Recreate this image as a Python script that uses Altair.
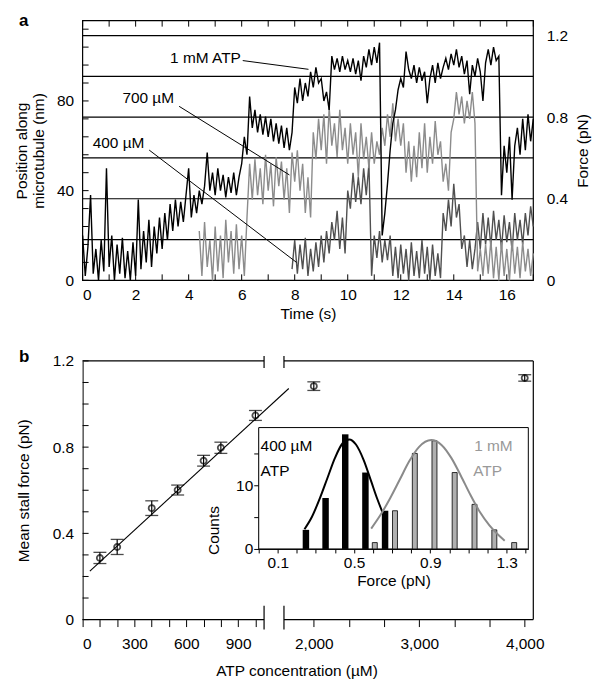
import altair as alt
import numpy as np
import pandas as pd

FONT = "Liberation Sans"
FS = 15.5

# ------------------------------------------------------------------ panel a
TIME_MAX = 17
NM_TOP = 115.8
FORCE_TOP = 1.273
STEP = 0.1

black_start = 0.0
black_nm = [20, 2, 15, 38, 3, 14, 0, 18, 4, 50,
            6, 20, 0, 16, 3, 19, 1, 13, 0, 17,
            2, 36, 5, 22, 8, 27, 6, 24, 12, 28,
            14, 30, 18, 34, 22, 36, 24, 35, 26, 38,
            50, 28, 38, 30, 40, 34, 42, 57, 40, 48,
            38, 50, 40, 47, 37, 46, 39, 48, 38, 46,
            52, 64, 56, 82, 68, 76, 66, 74, 65, 73,
            64, 72, 62, 70, 61, 69, 59, 68, 58, 66,
            86, 79, 90, 80, 88, 82, 93, 86, 95, 88,
            90, 80, 84, 76, 100, 94, 99, 93, 100, 94,
            98, 93, 99, 92, 98, 89, 100, 95, 103, 96,
            104, 97, 106, 20, 30, 43, 58, 70, 76, 85,
            90, 86, 102, 94, 90, 96, 88, 95, 89, 93,
            79, 90, 96, 88, 97, 90, 95, 99, 94, 101,
            96, 103, 95, 100, 92, 98, 83, 96, 91, 99,
            93, 80, 97, 103, 96, 104, 98, 100, 38, 60,
            48, 64, 36, 60, 68, 56, 72, 58, 74, 62, 72]

light_start = 4.4
light_nm = [22, 2, 26, 6, 18, 0,
            24, 4, 20, 1, 27, 8, 22, 3, 25, 5,
            20, 2, 28, 52, 36, 54, 38, 50, 34, 56,
            40, 52, 33, 55, 42, 53, 36, 50, 30, 57,
            44, 58, 40, 52, 30, 46, 28, 66, 54, 72,
            58, 74, 52, 77, 60, 70, 55, 76, 58, 68,
            52, 70, 56, 66, 46, 70, 54, 64, 50, 66,
            52, 62, 56, 68, 60, 74, 64, 79, 62, 72,
            60, 70, 48, 62, 44, 60, 46, 66, 50, 70,
            48, 64, 52, 71, 56, 62, 44, 52, 40, 66,
            72, 84, 74, 82, 70, 80, 72, 84, 70, 4,
            14, 2, 16, 3, 18, 1, 15, 0, 17, 2,
            14, 0, 18, 3, 15, 1, 17, 4, 14, 2, 12]

dark_start = 7.9
dark_nm = [5,
           18, 3, 16, 5, 19, 2, 14, 4, 17, 6,
           20, 8, 22, 12, 26, 18, 31, 14, 28, 12,
           40, 32, 48, 35, 46, 34, 50, 38, 52, 2,
           20, 10, 22, 8, 18, 9, 20, 2, 15, 1,
           16, 3, 14, 0, 17, 2, 13, 1, 18, 3,
           15, 0, 16, 2, 12, 1, 30, 22, 36, 24,
           43, 28, 34, 14, 20, 6, 18, 5, 14, 26,
           14, 30, 16, 28, 15, 31, 18, 27, 14, 29,
           17, 26, 13, 30, 18, 27, 16, 30, 20, 33, 24]

force_lines = [0.2, 0.4, 0.6, 0.8, 1.0, 1.2]
force_labels = [0, 0.4, 0.8, 1.2]
nm_labels = [0, 40, 80]
nm_ticks = list(range(0, 113, 8))
time_labels = list(range(0, 17, 2))
time_ticks = list(range(0, 18))

ann_text = ["1 mM ATP", "700 µM", "400 µM"]
ann_x = [5.97, 3.45, 2.33]
ann_y = [99.3, 81.4, 61.3]
lead_x0 = [6.04, 3.64, 2.51]
lead_y0 = [98.0, 77.6, 58.1]
lead_x1 = [8.52, 7.80, 8.07]
lead_y1 = [94.1, 47.0, 8.0]

# ------------------------------------------------------------------ panel b
atp_um = [100, 200, 400, 550, 700, 800, 1000, 2000, 4000]
stall_pn = [0.286, 0.337, 0.517, 0.601, 0.737, 0.797, 0.947, 1.083, 1.121]
stall_err = [0.026, 0.035, 0.034, 0.023, 0.025, 0.026, 0.023, 0.020, 0.015]
fit_um = [42, 1193]
fit_pn = [0.225, 1.072]

seg1_ticks = list(range(0, 1001, 100))
seg2_ticks = [2000, 2333.33, 2666.67, 3000, 3333.33, 3666.67, 4000]
x_tick_labels = {0: "0", 300: "300", 600: "600", 900: "900",
                 2000: "2,000", 3000: "3,000", 4000: "4,000"}
stall_labels = [0, 0.4, 0.8, 1.2]
stall_ticks = [round(0.1 * i, 1) for i in range(13)]

# inset histogram
hist400_f = [0.23, 0.337, 0.444, 0.554, 0.661]
hist400_n = [3, 8, 18, 12, 6]
hist1mM_f = [0.605, 0.715, 0.823, 0.93, 1.04, 1.148, 1.256, 1.364]
hist1mM_n = [1, 6, 15, 17, 12, 7, 3, 1]
curve400_f = [0.24, 0.28, 0.32, 0.36, 0.40, 0.44, 0.475, 0.51, 0.55, 0.59, 0.62, 0.65]
curve400_n = [3.1, 5.1, 7.9, 11.1, 14.3, 16.6, 17.2, 16.4, 14.0, 10.6, 8.0, 5.7]
curve1mM_f = [0.59, 0.64, 0.69, 0.74, 0.79, 0.84, 0.905, 0.96, 1.01, 1.06, 1.11, 1.16, 1.21, 1.26, 1.29]
curve1mM_n = [3.2, 5.4, 8.0, 10.9, 13.8, 16.0, 17.1, 16.3, 14.3, 11.5, 8.5, 5.8, 3.7, 2.1, 1.3]
inset_x_ticks = [round(0.1 * i, 1) for i in range(15)]
inset_y_ticks = [0, 5, 10, 15]
INSET_F_MAX = 1.414
INSET_N_MAX = 19.06

# ------------------------------------------------------------------ layout constants
W, HA, HB = 453, 261, 260
K1 = 0.1737        # px per µM in first segment
SEG1_END = 1050
GAP = 20
SEG2_START = 1717
K2 = 0.106         # px per µM in second segment
U1 = SEG1_END * K1
U2 = U1 + GAP


def to_u(c):
    c = np.asarray(c, dtype=float)
    return np.where(c <= SEG1_END, c * K1, U2 + (c - SEG2_START) * K2)


DEC = "datum.value == 0 ? '0' : format(datum.value, '.1f')"

# ================================================================== PANEL A
xA = alt.Scale(domain=[0, TIME_MAX], nice=False, zero=False)
yA = alt.Scale(domain=[0, NM_TOP], nice=False, zero=False)
fA = alt.Scale(domain=[0, FORCE_TOP], nice=False, zero=False)


def trace_df(start, vals):
    t = np.round(start + STEP * np.arange(len(vals)), 2)
    return pd.DataFrame({"t": t, "nm": vals})


def XA(field):
    return alt.X(field, scale=xA, axis=None)


def YA(field):
    return alt.Y(field, scale=yA, axis=None)


force_layer = alt.Chart(pd.DataFrame({"force": force_lines})).mark_rule(
    color="black", strokeWidth=1.2
).encode(
    y=alt.Y("force:Q", scale=fA,
            axis=alt.Axis(orient="right", values=force_labels, labelExpr=DEC,
                          ticks=False, domain=False, labelPadding=13,
                          title="Force (pN)", titlePadding=8,
                          titleAngle=270, titleBaseline="top"))
)

frame_a = alt.Chart(pd.DataFrame({"t0": [0], "t1": [TIME_MAX], "n0": [0], "n1": [NM_TOP]})).mark_rect(
    fill="transparent", stroke="black", strokeWidth=1.2
).encode(
    x=alt.X("t0:Q", scale=xA,
            axis=alt.Axis(orient="bottom", values=time_labels, format="d", ticks=False, domain=False,
                          labelPadding=7, title="Time (s)", titlePadding=4)),
    x2="t1:Q",
    y=alt.Y("n0:Q", scale=yA,
            axis=alt.Axis(orient="left", values=nm_labels, format="d", ticks=False, domain=False,
                          labelPadding=9, title=["Position along", "microtubule (nm)"],
                          titlePadding=10, titleLineHeight=17)),
    y2="n1:Q",
)


def trace_layer(df, color):
    return alt.Chart(df).mark_line(color=color, strokeWidth=1.4).encode(
        x=XA("t:Q"), y=YA("nm:Q"))


dark_layer = trace_layer(trace_df(dark_start, dark_nm), "#505050")
light_layer = trace_layer(trace_df(light_start, light_nm), "#8c8c8c")
black_layer = trace_layer(trace_df(black_start, black_nm), "#000000")

tdf = pd.DataFrame({"t": time_ticks})
tick_bottom = alt.Chart(tdf).mark_rule(color="black").encode(
    x=XA("t:Q"), y=alt.value(HA - 6), y2=alt.value(HA))
tick_top = alt.Chart(tdf).mark_rule(color="black").encode(
    x=XA("t:Q"), y=alt.value(0), y2=alt.value(6))
tick_left = alt.Chart(pd.DataFrame({"nm": nm_ticks})).mark_rule(color="black").encode(
    y=YA("nm:Q"), x=alt.value(0), x2=alt.value(6))

lead_layer = alt.Chart(pd.DataFrame({"t0": lead_x0, "n0": lead_y0, "t1": lead_x1, "n1": lead_y1})).mark_rule(
    color="black", strokeWidth=1
).encode(x=XA("t0:Q"), y=YA("n0:Q"), x2="t1:Q", y2="n1:Q")

ann_layer = alt.Chart(pd.DataFrame({"label": ann_text, "t": ann_x, "nm": ann_y})).mark_text(
    align="right", baseline="middle", fontSize=FS, color="black"
).encode(x=XA("t:Q"), y=YA("nm:Q"), text="label:N")

lab_a = alt.Chart(pd.DataFrame({"s": ["a"]})).mark_text(
    align="left", baseline="alphabetic", fontSize=17, fontWeight="bold", color="black"
).encode(text="s:N", x=alt.value(-64), y=alt.value(5))

panel_a = alt.layer(force_layer, frame_a, dark_layer, light_layer, black_layer,
                    tick_bottom, tick_top, tick_left, lead_layer, ann_layer, lab_a
                    ).resolve_scale(x="independent", y="independent").properties(width=W, height=HA)

# ================================================================== PANEL B
xB = alt.Scale(domain=[0, W], nice=False, zero=False)
yB = alt.Scale(domain=[0, 1.2], nice=False, zero=False)


def XB(field):
    return alt.X(field, scale=xB, axis=None)


def YB(field):
    return alt.Y(field, scale=yB, axis=None)


tick_um = seg1_ticks + seg2_ticks
tick_u = [round(float(v), 3) for v in to_u(tick_um)]
expr = ""
for um, lab in x_tick_labels.items():
    expr += f"abs(datum.value - {float(to_u([um])[0]):.3f}) < 0.05 ? '{lab}' : "
expr += "''"

pts = pd.DataFrame({"u": to_u(atp_um), "f": stall_pn,
                    "lo": np.array(stall_pn) - np.array(stall_err),
                    "hi": np.array(stall_pn) + np.array(stall_err)})

points = alt.Chart(pts).mark_point(shape="circle", filled=False, color="black",
                                   strokeWidth=1.8, size=38).encode(
    x=alt.X("u:Q", scale=xB,
            axis=alt.Axis(orient="bottom", values=tick_u, labelExpr=expr, tickSize=7, domain=False,
                          labelPadding=10, title="ATP concentration (µM)",
                          titlePadding=12, titleX=215)),
    y=alt.Y("f:Q", scale=yB,
            axis=alt.Axis(orient="left", values=stall_labels, labelExpr=DEC, ticks=False, domain=True,
                          labelPadding=9, title="Mean stall force (pN)", titlePadding=21)),
)
errbars = alt.Chart(pts).mark_rule(color="black", strokeWidth=1.2).encode(
    x=XB("u:Q"), y=YB("lo:Q"), y2="hi:Q")
caps = alt.Chart(pts).transform_fold(["lo", "hi"], as_=["end", "val"]).mark_tick(
    orient="horizontal", size=13, thickness=1.3, color="black").encode(
    x=XB("u:Q"), y=YB("val:Q"))
fit = alt.Chart(pd.DataFrame({"u": np.array(fit_um) * K1, "f": fit_pn})).mark_line(
    color="black", strokeWidth=1.1).encode(x=XB("u:Q"), y=YB("f:Q"))

frame_df = pd.DataFrame({"x0": [0, U2, 0, U2], "x1": [U1, W, U1, W], "y": [0, 0, 1.2, 1.2]})
frame_b = alt.Chart(frame_df).mark_rule(color="black", strokeWidth=1.2).encode(
    x=XB("x0:Q"), x2="x1:Q", y=YB("y:Q"))
right_b = alt.Chart(pd.DataFrame({"x": [W], "y0": [0], "y1": [1.2]})).mark_rule(
    color="black", strokeWidth=1.2).encode(x=XB("x:Q"), y=YB("y0:Q"), y2="y1:Q")
brk = pd.DataFrame({"x": [U1, U2]})
brk_bottom = alt.Chart(brk).mark_rule(color="black", strokeWidth=1.2).encode(
    x=XB("x:Q"), y=alt.value(HB - 14), y2=alt.value(HB + 10))
brk_top = alt.Chart(brk).mark_rule(color="black", strokeWidth=1.2).encode(
    x=XB("x:Q"), y=alt.value(-5), y2=alt.value(7))
ytick_b = alt.Chart(pd.DataFrame({"f": stall_ticks})).mark_rule(color="black").encode(
    y=YB("f:Q"), x=alt.value(0), x2=alt.value(6))
lab_b = alt.Chart(pd.DataFrame({"s": ["b"]})).mark_text(
    align="left", baseline="alphabetic", fontSize=17, fontWeight="bold", color="black"
).encode(text="s:N", x=alt.value(-64), y=alt.value(1))

# inset
xI = alt.Scale(domain=[0, INSET_F_MAX], range=[177, 448], nice=False, zero=False)
yI = alt.Scale(domain=[0, INSET_N_MAX], range=[189, 67], nice=False, zero=False)


def XI(field):
    return alt.X(field, scale=xI, axis=None)


def YI(field):
    return alt.Y(field, scale=yI, axis=None)


inset_frame = alt.Chart(pd.DataFrame({"x0": [0], "x1": [INSET_F_MAX], "y0": [0], "y1": [INSET_N_MAX]})).mark_rect(
    fill="white", stroke="black", strokeWidth=1).encode(
    x=alt.X("x0:Q", scale=xI,
            axis=alt.Axis(orient="bottom", offset=-71, values=inset_x_ticks,
                          labelExpr="round(datum.value*10) % 4 == 1 ? format(datum.value, '.1f') : ''",
                          tickSize=4, labelPadding=3, title="Force (pN)", titlePadding=2)),
    x2="x1:Q",
    y=alt.Y("y0:Q", scale=yI,
            axis=alt.Axis(orient="left", offset=-177, values=inset_y_ticks,
                          labelExpr="datum.value % 10 == 0 ? datum.label : ''",
                          tickSize=5, labelPadding=1, title="Counts", titlePadding=14,
                          titleY=170)),
    y2="y1:Q",
)
bars400 = alt.Chart(pd.DataFrame({"f": hist400_f, "n": hist400_n})).mark_bar(
    size=6.5, color="black").encode(x=XI("f:Q"), y=YI("n:Q"))
bars1mM = alt.Chart(pd.DataFrame({"f": hist1mM_f, "n": hist1mM_n})).mark_bar(
    size=5, fill="#b0b0b0", stroke="black", strokeWidth=0.8).encode(x=XI("f:Q"), y=YI("n:Q"))
curve400 = alt.Chart(pd.DataFrame({"f": curve400_f, "n": curve400_n})).mark_line(
    color="black", strokeWidth=2, interpolate="monotone").encode(x=XI("f:Q"), y=YI("n:Q"))
curve1mM = alt.Chart(pd.DataFrame({"f": curve1mM_f, "n": curve1mM_n})).mark_line(
    color="#8a8a8a", strokeWidth=2, interpolate="monotone").encode(x=XI("f:Q"), y=YI("n:Q"))
txt400 = alt.Chart(pd.DataFrame({"s": ["400 µM", "ATP"], "f": [0.01, 0.01], "n": [16.1, 12.2]})).mark_text(
    align="left", baseline="middle", fontSize=FS, color="black").encode(
    x=XI("f:Q"), y=YI("n:Q"), text="s:N")
txt1mM = alt.Chart(pd.DataFrame({"s": ["1 mM", "ATP"], "f": [1.13, 1.125], "n": [16.1, 12.2]})).mark_text(
    align="left", baseline="middle", fontSize=FS, color="#999999").encode(
    x=XI("f:Q"), y=YI("n:Q"), text="s:N")

panel_b = alt.layer(points, errbars, caps, fit, frame_b, right_b, brk_bottom, brk_top, ytick_b, lab_b,
                    inset_frame, bars400, bars1mM, curve400, curve1mM, txt400, txt1mM
                    ).resolve_scale(x="independent", y="independent").properties(width=W, height=HB)

chart = alt.vconcat(panel_a, panel_b, spacing=26).properties(
    padding={"left": 6, "top": 2, "right": 0, "bottom": 0}
).configure(font=FONT).configure_view(stroke=None).configure_axis(
    labelFontSize=FS, titleFontSize=FS, labelColor="black", titleColor="black",
    titleFontWeight="normal", domainColor="black", tickColor="black", grid=False,
    labelFont=FONT, titleFont=FONT
)

chart.save("out.html", embed_options={"renderer": "svg", "actions": False})
